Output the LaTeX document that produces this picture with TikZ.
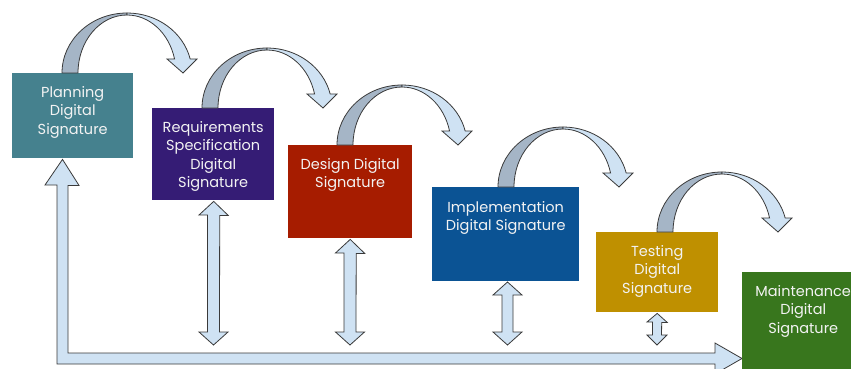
\documentclass[tikz,border=0pt]{standalone}
\usepackage{fontspec}
\setmainfont{Poppins}
\usetikzlibrary{calc}
\definecolor{cplan}{HTML}{45818E}
\definecolor{creq}{HTML}{351C75}
\definecolor{cdes}{HTML}{A61C00}
\definecolor{cimp}{HTML}{0B5394}
\definecolor{ctest}{HTML}{BF9000}
\definecolor{cmain}{HTML}{38761D}
\definecolor{alight}{HTML}{CFE2F3}
\definecolor{adark}{HTML}{A5B5C6}
\definecolor{aline}{HTML}{3A3A3A}
\definecolor{txt}{HTML}{F3F3F3}
\tikzset{
  stagebox/.style={draw=none, anchor=north west, inner sep=0pt},
  stagelbl/.style={anchor=north, inner sep=0pt, align=center, text=txt,
    font=\fontsize{14.5}{18.5}\selectfont},
  blockarrow/.style={fill=alight, draw=aline, line width=0.8pt, line join=miter},
  curvarrow/.pic={
    \path[fill=adark, draw=aline, line width=0.8pt]
      (-65,0) arc[start angle=180, end angle=270, x radius=65, y radius=60]
      -- (0,-58) arc[start angle=270, end angle=180, x radius=49, y radius=58]
      -- cycle;
    \path[fill=alight, draw=aline, line width=0.8pt]
      (0,-60) arc[start angle=270, end angle=346.5, x radius=65, y radius=60]
      -- (70,-14) -- (56,0) -- (40,-14) -- (47.55,-14)
      arc[start angle=346.03, end angle=270, x radius=49, y radius=58]
      -- cycle;
  }
}
\begin{document}
\begin{tikzpicture}[x=1pt, y=-1pt]
\useasboundingbox (0,0) rectangle (851,369);
\clip (0,0) rectangle (851,369);

% boxes
\node[stagebox, fill=cplan, minimum width=121pt, minimum height=85pt] (b1) at (12,73) {};
\node[stagebox, fill=creq, minimum width=122pt, minimum height=92pt] (b2) at (152,108) {};
\node[stagebox, fill=cdes, minimum width=124pt, minimum height=93pt] (b3) at (288,145) {};
\node[stagebox, fill=cimp, minimum width=147pt, minimum height=94pt] (b4) at (432,187) {};
\node[stagebox, fill=ctest, minimum width=122pt, minimum height=80pt] (b5) at (596,232) {};

% big L-shaped arrow
\path[blockarrow]
  ($(b1.south west)+(50.5,1)$) coordinate (ltip)
  -- ++(16.5,26) -- ++(-11,0) -- (68,353) -- (715,353) -- (715,343)
  -- (742,358.5) coordinate (lend) -- (715,374) -- (715,364) -- (57,364)
  -- (57,185) -- (45,185) -- cycle;

\node[stagebox, fill=cmain, minimum width=122pt, minimum height=110pt] (b6) at (742,272) {};

% labels
\node[stagelbl] (t1) at ($(b1.north)+(0,13)$) {Planning\\Digital\\Signature};
\node[stagelbl] (t2) at ($(b2.north)+(0,13)$) {Requirements\\Specification\\Digital\\Signature};
\node[stagelbl] (t3) at ($(b3.north)+(0,13)$) {Design Digital\\Signature};
\node[stagelbl] (t4) at ($(b4.north)+(0,14)$) {Implementation\\Digital Signature};
\node[stagelbl] (t5) at ($(b5.north)+(0,13)$) {Testing\\Digital\\Signature};
\node[stagelbl] (t6) at ($(b6.north)+(0,13)$) {Maintenance\\Digital\\Signature};

% curved arrows
\pic at ($(b1.north west)+(115,0)$) {curvarrow};
\pic at ($(b2.north west)+(115,0)$) {curvarrow};
\pic at ($(b3.north west)+(114,0)$) {curvarrow};
\pic at ($(b4.north west)+(131,0)$) {curvarrow};
\pic at ($(b5.north west)+(126,0)$) {curvarrow};

% vertical double arrows
\path[blockarrow] ($(b2.south)+(0.5,1)$) -- ++(14.5,14) -- ++(-8.5,0) -- (219.5,332) -- (228,332)
  -- (213.5,345) -- (199,332) -- (207.5,332) -- (207.5,215) -- (199,215) -- cycle;
\path[blockarrow] ($(b3.south)+(0,1)$) -- ++(14.5,14) -- ++(-8.5,0) -- (356,332) -- (364.5,332)
  -- (350,345) -- (335.5,332) -- (344,332) -- (344,253) -- (335.5,253) -- cycle;
\path[blockarrow] (507.5,282) -- ++(14.5,13) -- ++(-9,0) -- (513,332) -- (522,332)
  -- (507.5,345) -- (493,332) -- (502,332) -- (502,295) -- (493,295) -- cycle;
\path[blockarrow] ($(b5.south)+(0,1)$) -- ++(10,9) -- ++(-5.5,0) -- (661.5,335) -- (667,335)
  -- (657,345) -- (647,335) -- (652.5,335) -- (652.5,322) -- (647,322) -- cycle;
\end{tikzpicture}
\end{document}
